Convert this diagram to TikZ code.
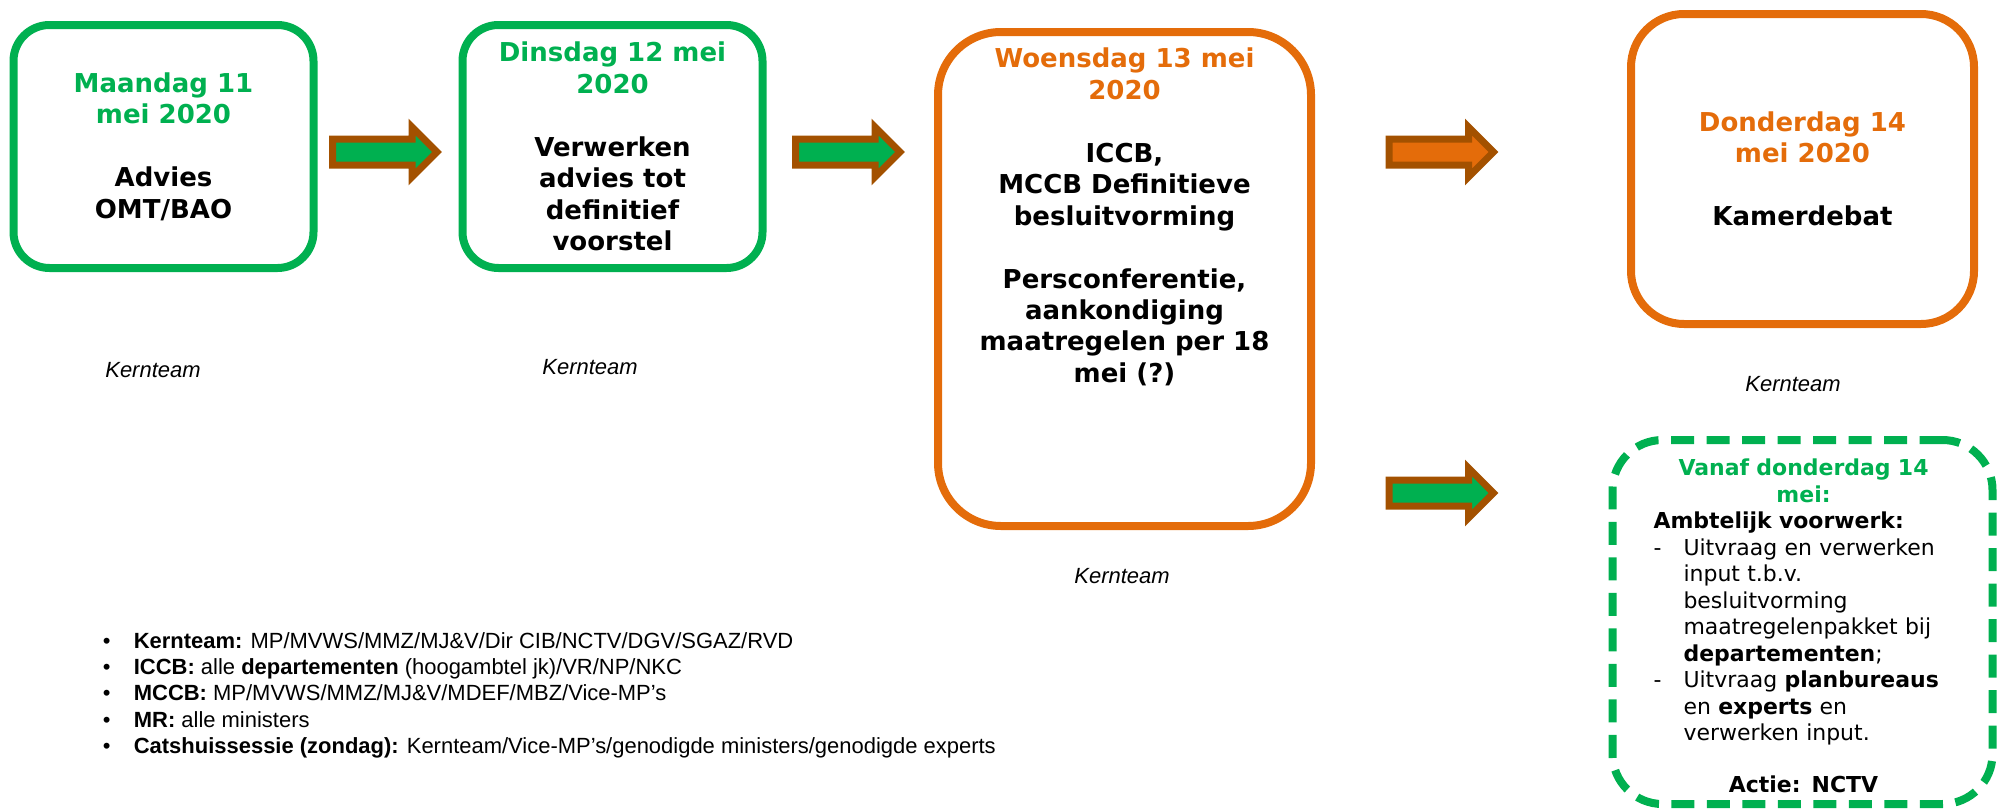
\documentclass[tikz,border=0pt]{standalone}
\usepackage{fontspec}
\setmainfont{DejaVu Sans}
\newfontfamily\arialfont{Liberation Sans}
\usetikzlibrary{positioning}
\usetikzlibrary{shapes.arrows}
\definecolor{kgreen}{RGB}{0,176,80}
\definecolor{korange}{RGB}{228,108,10}
\definecolor{kbrown}{RGB}{163,81,0}
\tikzset{block/.style={draw, rounded corners=0.72cm, line width=0.16cm, align=center, font=\fontsize{14.8}{17.9}\selectfont\bfseries}}
\tikzset{fat/.style={single arrow, draw=kbrown, line width=0.14cm, minimum height=2.09cm, inner sep=0.19cm, single arrow head extend=0.24cm, anchor=tail}}
\tikzset{team/.style={font=\arialfont\itshape\fontsize{12.5}{15}\selectfont}}

\begin{document}
\begin{tikzpicture}
\useasboundingbox (0,0) rectangle (39.98,-16.22);

%day blocks
\node[block, draw=kgreen, minimum width=6cm, minimum height=4.86cm] (mon) at (3.27,-2.93) {\textcolor{kgreen}{Maandag 11}\\\textcolor{kgreen}{mei 2020}\\[0.63cm]Advies\\OMT/BAO};
\node[block, draw=kgreen, minimum width=6cm, minimum height=4.86cm] (tue) at ([xshift=8.98cm]mon) {\textcolor{kgreen}{Dinsdag 12 mei}\\\textcolor{kgreen}{2020}\\[0.63cm]Verwerken\\advies tot\\definitief\\voorstel};
\node[block, draw=korange, rounded corners=1.26cm, minimum width=7.46cm, minimum height=9.88cm] (wed) at ([xshift=19.22cm,yshift=-2.65cm]mon) {};
\node[block, draw=none, anchor=north, inner sep=0] (wedtxt) at ([yshift=-0.32cm]wed.north) {\textcolor{korange}{Woensdag 13 mei}\\\textcolor{korange}{2020}\\[0.63cm]ICCB,\\MCCB Definitieve\\besluitvorming\\[0.63cm]Persconferentie,\\aankondiging\\maatregelen per 18\\mei (?)};
\node[block, draw=korange, rounded corners=1.06cm, minimum width=6.86cm, minimum height=6.2cm] (thu) at ([xshift=32.78cm,yshift=-0.45cm]mon) {\textcolor{korange}{Donderdag 14}\\\textcolor{korange}{mei 2020}\\[0.63cm]Kamerdebat};
\node[block, draw=kgreen, dash pattern=on 0.46cm off 0.25cm, rounded corners=1cm, minimum width=7.6cm, minimum height=7.28cm] (from) at ([yshift=-9.06cm]thu) {};
\node[anchor=north, text width=6cm, align=left, inner sep=0, font=\fontsize{12.5}{15.08}\selectfont] (fromtxt) at ([xshift=0.02cm,yshift=-0.45cm]from.north) {%
\parindent=0pt
{\centering\color{kgreen}\bfseries Vanaf donderdag 14\\mei:\par}
\textbf{Ambtelijk voorwerk:}\\
\makebox[0.6cm][l]{-}Uitvraag en verwerken\\
\hspace*{0.6cm}input t.b.v.\\
\hspace*{0.6cm}besluitvorming\\
\hspace*{0.6cm}maatregelenpakket bij\\
\hspace*{0.6cm}\textbf{departementen};\\
\makebox[0.6cm][l]{-}Uitvraag \textbf{planbureaus}\\
\hspace*{0.6cm}en \textbf{experts} en\\
\hspace*{0.6cm}verwerken input.\par
\vspace{0.51cm}
{\centering\bfseries Actie: NCTV\par}};

%arrows
\node[fat, fill=kgreen] (arr1) at ([xshift=0.23cm,yshift=-0.11cm]mon.east) {};
\node[fat, fill=kgreen] (arr2) at ([xshift=0.51cm,yshift=-0.11cm]tue.east) {};
\node[fat, fill=korange] (arr3) at ([xshift=1.41cm,yshift=2.54cm]wed.east) {};
\node[fat, fill=kgreen] (arr4) at ([xshift=1.41cm,yshift=-4.28cm]wed.east) {};

%kernteam
\node[team] (monteam) at ([xshift=-0.21cm,yshift=-1.96cm]mon.south) {Kernteam};
\node[team] (tueteam) at ([xshift=-0.45cm,yshift=-1.9cm]tue.south) {Kernteam};
\node[team] (wedteam) at ([xshift=-0.05cm,yshift=-0.92cm]wed.south) {Kernteam};
\node[team] (thuteam) at ([xshift=-0.19cm,yshift=-1.12cm]thu.south) {Kernteam};

%legend
\node[anchor=north west, align=left, inner sep=0, font=\arialfont\fontsize{12.5}{14.94}\selectfont] (legend) at ([xshift=1.86cm,yshift=-7.2cm]mon.south west) {%
\makebox[0.62cm][l]{•}\textbf{Kernteam:} MP/MVWS/MMZ/MJ\&V/Dir CIB/NCTV/DGV/SGAZ/RVD\\
\makebox[0.62cm][l]{•}\textbf{ICCB:} alle \textbf{departementen} (hoogambtel jk)/VR/NP/NKC\\
\makebox[0.62cm][l]{•}\textbf{MCCB:} MP/MVWS/MMZ/MJ\&V/MDEF/MBZ/Vice-MP’s\\
\makebox[0.62cm][l]{•}\textbf{MR:} alle ministers\\
\makebox[0.62cm][l]{•}\textbf{Catshuissessie (zondag):} Kernteam/Vice-MP’s/genodigde ministers/genodigde experts};

\end{tikzpicture}
\end{document}
